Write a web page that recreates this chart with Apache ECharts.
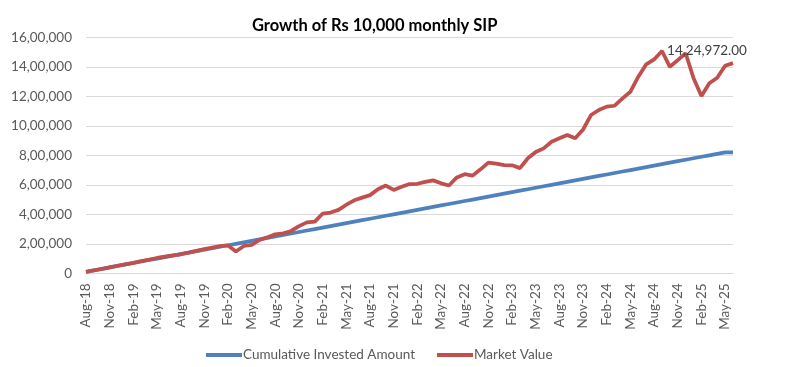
<!DOCTYPE html>
<html>
<head>
<meta charset="utf-8">
<script src="https://cdn.jsdelivr.net/npm/echarts@6/dist/echarts.min.js"></script>
<style>
  html, body { margin: 0; padding: 0; background: #ffffff; }
  #chart { width: 785px; height: 367px; }
</style>
</head>
<body>
<div id="chart"></div>
<script>
const categories = [
  'Aug-18','Sep-18','Oct-18','Nov-18','Dec-18','Jan-19','Feb-19','Mar-19','Apr-19','May-19','Jun-19','Jul-19',
  'Aug-19','Sep-19','Oct-19','Nov-19','Dec-19','Jan-20','Feb-20','Mar-20','Apr-20','May-20','Jun-20','Jul-20',
  'Aug-20','Sep-20','Oct-20','Nov-20','Dec-20','Jan-21','Feb-21','Mar-21','Apr-21','May-21','Jun-21','Jul-21',
  'Aug-21','Sep-21','Oct-21','Nov-21','Dec-21','Jan-22','Feb-22','Mar-22','Apr-22','May-22','Jun-22','Jul-22',
  'Aug-22','Sep-22','Oct-22','Nov-22','Dec-22','Jan-23','Feb-23','Mar-23','Apr-23','May-23','Jun-23','Jul-23',
  'Aug-23','Sep-23','Oct-23','Nov-23','Dec-23','Jan-24','Feb-24','Mar-24','Apr-24','May-24','Jun-24','Jul-24',
  'Aug-24','Sep-24','Oct-24','Nov-24','Dec-24','Jan-25','Feb-25','Mar-25','Apr-25','May-25','Jun-25'
];

const investedAmount = [
  10000, 20000, 30000, 40000, 50000, 60000, 70000, 80000, 90000, 100000, 110000, 120000,
  130000, 140000, 150000, 160000, 170000, 180000, 190000, 200000, 210000, 220000, 230000, 240000,
  250000, 260000, 270000, 280000, 290000, 300000, 310000, 320000, 330000, 340000, 350000, 360000,
  370000, 380000, 390000, 400000, 410000, 420000, 430000, 440000, 450000, 460000, 470000, 480000,
  490000, 500000, 510000, 520000, 530000, 540000, 550000, 560000, 570000, 580000, 590000, 600000,
  610000, 620000, 630000, 640000, 650000, 660000, 670000, 680000, 690000, 700000, 710000, 720000,
  730000, 740000, 750000, 760000, 770000, 780000, 790000, 800000, 810000, 820000, 820000
];

const marketValue = [
  10000, 20500, 29000, 40500, 51000, 61000, 70500, 82000, 92500, 104000, 113500, 121000,
  129000, 140000, 152000, 164000, 174500, 184000, 189000, 148000, 185000, 193000, 226000, 245000,
  264000, 271000, 287000, 320000, 345000, 350000, 405000, 412000, 430000, 465000, 495000, 513000,
  530000, 570000, 595000, 565000, 587000, 605000, 607000, 620000, 630000, 610000, 595000, 650000,
  672000, 662000, 705000, 750000, 744000, 733000, 732000, 713000, 780000, 822000, 847000, 892000,
  915000, 938000, 915000, 975000, 1073000, 1107000, 1130000, 1136000, 1186000, 1231000, 1333000, 1417000,
  1450000, 1507000, 1400000, 1445000, 1492000, 1322000, 1202000, 1288000, 1326000, 1407000, 1424972
];

const yTickLabels = ['0','2,00,000','4,00,000','6,00,000','8,00,000','10,00,000','12,00,000','14,00,000','16,00,000'];
const seriesNames = ['Cumulative Invested Amount', 'Market Value'];
const titleText = 'Growth of Rs 10,000 monthly SIP';
const lastLabelText = '14,24,972.00';

const FONT = 'Lato';
const chart = echarts.init(document.getElementById('chart'), null, { renderer: 'canvas' });
const lastIdx = marketValue.length - 1;

chart.setOption({
  animation: false,
  backgroundColor: '#ffffff',
  title: {
    text: titleText,
    left: 247,
    top: 12,
    textStyle: { fontFamily: FONT, fontWeight: 'bold', fontSize: 16.5, color: '#000000' }
  },
  legend: {
    left: 201,
    top: 343,
    itemWidth: 36,
    itemHeight: 4,
    itemGap: 22,
    icon: 'rect',
    data: seriesNames,
    textStyle: { fontFamily: FONT, fontSize: 13.5, color: '#595959', padding: [0, 0, 0, -4] }
  },
  grid: { left: 86, right: 52, top: 37.3, bottom: 93.7, containLabel: false },
  xAxis: {
    type: 'category',
    data: categories,
    boundaryGap: false,
    axisLine: { show: true, lineStyle: { color: '#d9d9d9', width: 1 } },
    axisTick: { show: false },
    splitLine: { show: false },
    axisLabel: {
      interval: 2,
      rotate: 90,
      margin: 10,
      fontFamily: FONT,
      fontSize: 13.5,
      color: '#595959'
    }
  },
  yAxis: {
    type: 'value',
    min: 0,
    max: 1600000,
    interval: 200000,
    axisLine: { show: false },
    axisTick: { show: false },
    splitLine: { show: true, lineStyle: { color: '#d9d9d9', width: 1 } },
    axisLabel: {
      margin: 14,
      fontFamily: FONT,
      fontSize: 13.5,
      color: '#595959',
      formatter: function (v) { return yTickLabels[Math.round(v / 200000)]; }
    }
  },
  series: [
    {
      name: seriesNames[0],
      type: 'line',
      data: investedAmount,
      showSymbol: false,
      symbol: 'none',
      lineStyle: { color: '#4F81BD', width: 3.75 },
      itemStyle: { color: '#4F81BD' }
    },
    {
      name: seriesNames[1],
      type: 'line',
      data: marketValue,
      showSymbol: false,
      symbol: 'none',
      lineStyle: { color: '#C0504D', width: 3.75 },
      itemStyle: { color: '#C0504D' },
      markPoint: {
        symbol: 'circle',
        symbolSize: 0,
        data: [{
          coord: [categories[lastIdx], marketValue[lastIdx]],
          label: {
            show: true,
            formatter: lastLabelText,
            position: 'inside',
            offset: [-26, -12],
            fontFamily: FONT,
            fontSize: 13.5,
            color: '#404040'
          }
        }]
      }
    }
  ]
});
</script>
</body>
</html>
